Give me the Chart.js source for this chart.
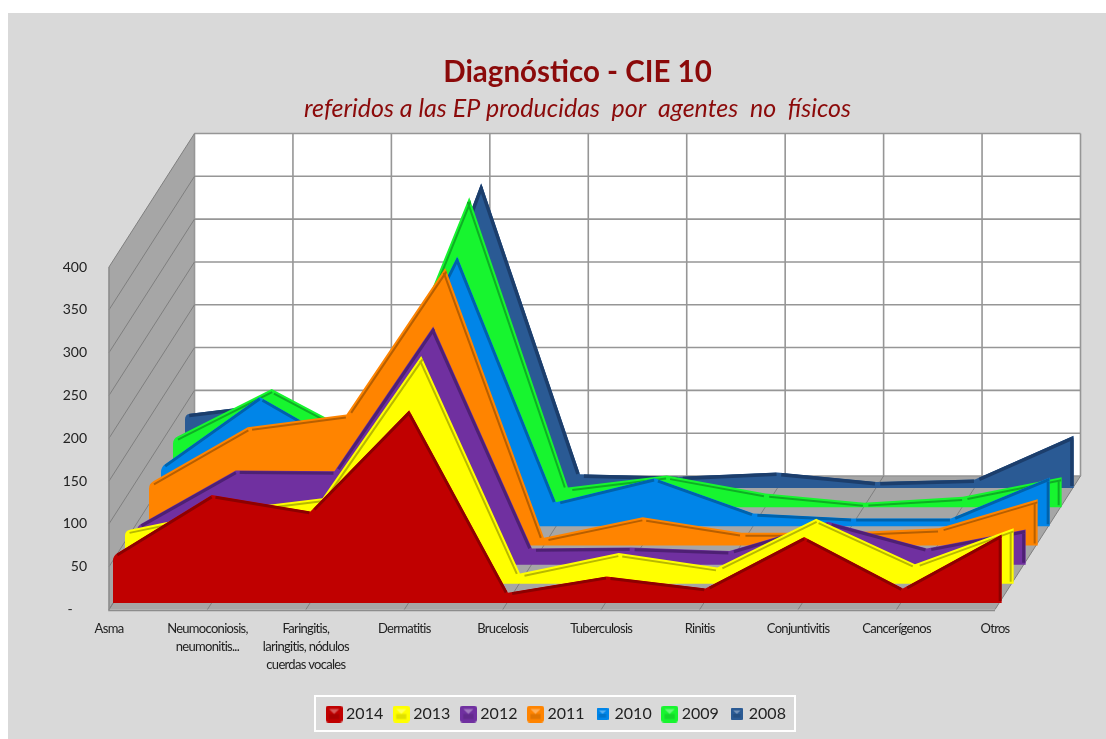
<!DOCTYPE html>
<html><head><meta charset="utf-8">
<style>html,body{margin:0;padding:0;background:#fff}canvas{display:block}</style>
<script src="https://cdn.jsdelivr.net/npm/chart.js@4"></script>
</head><body>
<canvas id="c" width="1106" height="739"></canvas>
<script>
const categories = ['Asma',['Neumoconiosis,','neumonitis...'],['Faringitis,','laringitis, nódulos','cuerdas vocales'],'Dermatitis','Brucelosis','Tuberculosis','Rinitis','Conjuntivitis','Cancerígenos','Otros'];
const yTicks = [0,50,100,150,200,250,300,350,400];
const v2014 = [55,126,107,225,12,31,17,77,17,80];
const v2013 = [62,86,100,266,12,36,19,76,23,65];
const v2012 = [45,110,109,278,19,20,16,50,19,41];
const v2011 = [72,138,153,324,9,33,15,15,20,54];
const v2010 = [69,151,85,315,28,56,15,9,9,57];
const v2009 = [80,138,77,362,23,37,16,5,12,35];
const v2008 = [86,100,50,356,16,13,18,7,10,61];
const years = ['2014','2013','2012','2011','2010','2009','2008'];
const seriesValues = [v2014,v2013,v2012,v2011,v2010,v2009,v2008];
const faceColors = ['#c00000','#ffff00','#7030a0','#ff8400','#0085e8','#17f52f','#2a5a94'];
const ridgeColors = ['#8c0000','#b8b800','#4e2074','#b85f00','#0062ab','#0fae25','#1c3e6c'];
const ridgeInset = [1.5,3,2,3,1.5,3,1.5];
const ridgeWidth = [3,2,3,2,3,2,4];
const swatchSizes = [17,17,17,17,12,17,12];

const DEPTH_X = 85.5, DEPTH_Y = 133.5;
const SERIES_X0 = 4, SERIES_XS = 12, SERIES_Y0 = 6.5, SERIES_YS = 19.17, SERIES_STRETCH = 1.003;

function swatch(i){
  const s = swatchSizes[i], c = document.createElement('canvas');
  c.width = s; c.height = s;
  const g = c.getContext('2d');
  g.fillStyle = faceColors[i];
  g.beginPath(); g.roundRect(0,0,s,s,s>12?3:1); g.fill();
  g.fillStyle = 'rgba(255,255,255,.35)';
  g.beginPath(); g.moveTo(s*.2,s*.2); g.lineTo(s*.8,s*.2); g.lineTo(s*.5,s*.5); g.fill();
  g.fillStyle = 'rgba(0,0,0,.12)';
  g.fillRect(s*.2,s*.5,s*.6,s*.3);
  return c;
}

const scene = {
  id:'scene',
  beforeDatasetsDraw(chart){
    const {ctx, scales:{x,y}} = chart;
    const x0 = x.getPixelForValue(0), x1 = x.getPixelForValue(categories.length-1);
    const yB = y.getPixelForValue(0), yT = y.getPixelForValue(yTicks[yTicks.length-1]);
    ctx.save();
    ctx.fillStyle = '#fff';
    ctx.fillRect(x0+DEPTH_X, yT-DEPTH_Y, x1-x0, yB-yT);
    ctx.fillStyle = '#a6a6a6';
    ctx.beginPath(); ctx.moveTo(x0,yT); ctx.lineTo(x0+DEPTH_X,yT-DEPTH_Y); ctx.lineTo(x0+DEPTH_X,yB-DEPTH_Y); ctx.lineTo(x0,yB); ctx.closePath(); ctx.fill();
    ctx.beginPath(); ctx.moveTo(x0,yB); ctx.lineTo(x0+DEPTH_X,yB-DEPTH_Y); ctx.lineTo(x1+DEPTH_X,yB-DEPTH_Y); ctx.lineTo(x1,yB); ctx.closePath(); ctx.fill();
    ctx.strokeStyle = '#969696'; ctx.lineWidth = 1.6;
    yTicks.forEach(t=>{
      const p = y.getPixelForValue(t);
      ctx.beginPath(); ctx.moveTo(x0+DEPTH_X,p-DEPTH_Y); ctx.lineTo(x1+DEPTH_X,p-DEPTH_Y); ctx.stroke();
    });
    categories.forEach((c,i)=>{
      const p = x.getPixelForValue(i);
      ctx.beginPath(); ctx.moveTo(p+DEPTH_X,yT-DEPTH_Y); ctx.lineTo(p+DEPTH_X,yB-DEPTH_Y); ctx.stroke();
    });
    ctx.strokeStyle = '#7f7f7f'; ctx.lineWidth = 1;
    yTicks.forEach(t=>{
      const p = y.getPixelForValue(t);
      ctx.beginPath(); ctx.moveTo(x0,p); ctx.lineTo(x0+DEPTH_X,p-DEPTH_Y); ctx.stroke();
    });
    categories.forEach((c,i)=>{
      const p = x.getPixelForValue(i);
      ctx.beginPath(); ctx.moveTo(p,yB); ctx.lineTo(p+DEPTH_X,yB-DEPTH_Y); ctx.stroke();
    });
    ctx.strokeStyle = '#8c8c8c'; ctx.lineWidth = 1.6;
    ctx.beginPath(); ctx.moveTo(x0,yT); ctx.lineTo(x0,yB+1); ctx.lineTo(x1,yB+1); ctx.stroke();
    ctx.restore();
  },
  beforeDatasetDraw(chart,args){
    const {ctx, scales:{x,y}} = chart, k = args.index;
    const x0 = x.getPixelForValue(0);
    const pts = args.meta.data.map(p=>({x:x0+(p.x-x0)*SERIES_STRETCH,y:p.y}));
    const dx = SERIES_X0+SERIES_XS*k, dy = -(SERIES_Y0+SERIES_YS*k);
    const base = y.getPixelForValue(0);
    ctx.save();
    ctx.translate(dx,dy);
    const a0=pts[0], a1=pts[1];
    const L0=Math.hypot(a1.x-a0.x,a1.y-a0.y), r=5;
    ctx.beginPath();
    ctx.moveTo(a0.x,base);
    ctx.lineTo(a0.x,a0.y+r);
    ctx.quadraticCurveTo(a0.x,a0.y,a0.x+(a1.x-a0.x)/L0*r,a0.y+(a1.y-a0.y)/L0*r);
    pts.slice(1).forEach(p=>ctx.lineTo(p.x,p.y));
    ctx.lineTo(pts[pts.length-1].x,base);
    ctx.closePath();
    ctx.fillStyle = faceColors[k];
    ctx.fill();
    ctx.clip();
    ctx.strokeStyle = ridgeColors[k];
    ctx.lineCap = 'butt';
    ctx.lineWidth = ridgeWidth[k];
    const inset = ridgeInset[k];
    for(let i=0;i<pts.length-1;i++){
      const a=pts[i], b=pts[i+1];
      const L=Math.hypot(b.x-a.x,b.y-a.y), ux=(b.x-a.x)/L, uy=(b.y-a.y)/L;
      const nx=-uy*inset, ny=ux*inset;
      ctx.beginPath();
      ctx.moveTo(a.x+ux*4+nx,a.y+uy*4+ny);
      ctx.lineTo(b.x-ux*1+nx,b.y-uy*1+ny);
      ctx.stroke();
    }
    const last=pts[pts.length-1];
    ctx.beginPath(); ctx.moveTo(last.x-inset,last.y+4); ctx.lineTo(last.x-inset,base-2); ctx.stroke();
    ctx.restore();
    return false;
  },
  afterLayout(chart){
    const sx = chart.scales.x;
    if(!sx._tight){
      sx._tight = true;
      const orig = sx.drawLabels.bind(sx);
      sx.drawLabels = function(a){ const c=sx.ctx; c.save(); c.letterSpacing='-0.7px'; orig(a); c.restore(); };
    }
    chart.boxes.filter(b=>b.options && b.options.text && b.isHorizontal && b.isHorizontal()).forEach(b=>{ b.left=49; b.right=1106; });
    chart.legend.left=63; chart.legend.right=1053;
  }
};
const panel = {
  id:'panel',
  beforeDraw(chart){
    const {ctx,width,height} = chart;
    ctx.save();
    ctx.fillStyle='#fff'; ctx.fillRect(0,0,width,height);
    ctx.fillStyle='#d9d9d9'; ctx.fillRect(8,13,width-8,height-13);
    ctx.restore();
  },
  afterDraw(chart){
    const {ctx} = chart;
    ctx.save();
    ctx.strokeStyle='#fff'; ctx.lineWidth=2;
    ctx.strokeRect(315,696,480,35);
    ctx.restore();
  }
};

new Chart(document.getElementById('c'),{
  type:'line',
  data:{labels:categories,datasets:seriesValues.map((d,i)=>({
    label:years[i],data:d,borderColor:ridgeColors[i],backgroundColor:faceColors[i],fill:false,pointRadius:0,clip:false,tension:0
  }))},
  plugins:[panel,scene],
  options:{
    responsive:false,animation:false,
    layout:{padding:{left:0,right:111,top:0,bottom:7}},
    plugins:{
      tooltip:{enabled:false},
      title:{display:true,text:'Diagnóstico - CIE 10',color:'#8b0a0a',font:{family:'Lato',size:29.5,weight:'bold',lineHeight:1.2},padding:{top:54.8,bottom:0}},
      subtitle:{display:true,text:'referidos a las EP producidas  por  agentes  no  físicos',color:'#8b0a0a',font:{family:'Lato',size:25,style:'italic',weight:'normal',lineHeight:1.2},padding:{top:3.3,bottom:143.5}},
      legend:{position:'bottom',labels:{
        font:{family:'Lato',size:16},color:'#222',usePointStyle:true,pointStyleWidth:8,padding:14,
        generateLabels(chart){return years.map((t,i)=>({text:t,datasetIndex:i,pointStyle:swatch(i),fontColor:'#222',fillStyle:faceColors[i],strokeStyle:faceColors[i],lineWidth:0}));}
      }}
    },
    scales:{
      x:{type:'category',offset:false,grid:{display:false,drawTicks:false},border:{display:false},
        afterFit(s){s.height=82.5;},
        ticks:{autoSkip:false,maxRotation:0,minRotation:0,padding:10,color:'#222',font:{family:'Lato',size:13,lineHeight:1.4}}},
      y:{min:0,max:400,grid:{display:false,drawTicks:false},border:{display:false},
        afterFit(s){s.width=109;},
        afterBuildTicks(s){s.ticks=yTicks.map(v=>({value:v}));},
        ticks:{padding:22,color:'#222',font:{family:'Lato',size:14},callback:v=>v===0?'-    ':String(v)}}
    }
  }
});
</script>
</body></html>
